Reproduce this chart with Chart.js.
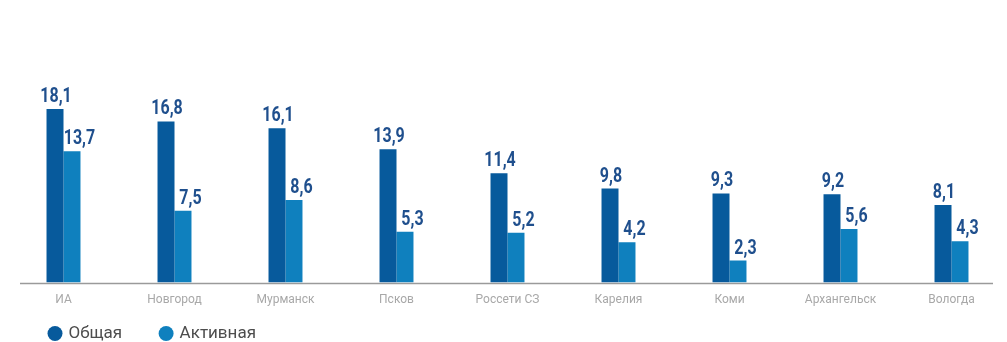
<!DOCTYPE html>
<html>
<head>
<meta charset="utf-8">
<script src="https://cdn.jsdelivr.net/npm/chart.js@4"></script>
<style>
  html, body { margin: 0; padding: 0; background: #ffffff; }
  #wrap { width: 1007px; height: 342px; position: relative; }
</style>
</head>
<body>
<div id="wrap"><canvas id="c"></canvas></div>
<script>
const categories = ["ИА", "Новгород", "Мурманск", "Псков", "Россети СЗ", "Карелия", "Коми", "Архангельск", "Вологда"];
const totalValues = [18.1, 16.8, 16.1, 13.9, 11.4, 9.8, 9.3, 9.2, 8.1];
const activeValues = [13.7, 7.5, 8.6, 5.3, 5.2, 4.2, 2.3, 5.6, 4.3];
const seriesNames = ["Общая", "Активная"];

const FONT = 'Roboto, "Liberation Sans", sans-serif';

const valueLabels = {
  id: 'valueLabels',
  afterDatasetsDraw(chart) {
    const ctx = chart.ctx;
    const sx = 0.8;
    const dx = [1, 7.5];
    ctx.save();
    ctx.font = 'bold 20px ' + FONT;
    ctx.fillStyle = '#1f4f8d';
    ctx.textAlign = 'center';
    ctx.textBaseline = 'alphabetic';
    chart.data.datasets.forEach((ds, di) => {
      const meta = chart.getDatasetMeta(di);
      meta.data.forEach((el, i) => {
        const txt = String(ds.data[i]).replace('.', ',');
        ctx.save();
        ctx.translate(el.x + dx[di], el.y - 7);
        ctx.scale(sx, 1);
        ctx.fillText(txt, 0, 0);
        ctx.restore();
      });
    });
    ctx.restore();
  }
};

const baseLine = {
  id: 'baseLine',
  beforeDatasetsDraw(chart) {
    const ctx = chart.ctx;
    const y = Math.round(chart.scales.y.getPixelForValue(0)) + 0.5;
    ctx.save();
    ctx.strokeStyle = '#9a9a9a';
    ctx.lineWidth = 1.5;
    ctx.beginPath();
    ctx.moveTo(20, y);
    ctx.lineTo(993, y);
    ctx.stroke();
    ctx.restore();
  }
};

const legendPlace = {
  id: 'legendPlace',
  beforeLayout(chart) {
    const lg = chart.legend;
    if (lg && !lg._patched) {
      const f = lg.fit.bind(lg);
      lg.fit = function () { f(); this.height = 25; };
      lg._patched = true;
    }
  },
  afterLayout(chart) {
    const lg = chart.legend;
    if (!lg) return;
    const pad = lg.options.labels.padding;
    lg.left = 50 - pad;
    lg.top = 333 - pad - 8;
  }
};

new Chart(document.getElementById('c'), {
  type: 'bar',
  data: {
    labels: categories,
    datasets: [
      { label: seriesNames[0], data: totalValues, backgroundColor: '#075a9c' },
      { label: seriesNames[1], data: activeValues, backgroundColor: '#0f80be' }
    ]
  },
  options: {
    responsive: true,
    maintainAspectRatio: false,
    animation: false,
    devicePixelRatio: 1,
    categoryPercentage: 0.306,
    barPercentage: 1,
    layout: { padding: { left: 8, right: 0, top: 14, bottom: 0 } },
    scales: {
      x: {
        grid: { display: false, drawTicks: false },
        border: { display: false },
        ticks: { color: '#a8a8a8', font: { family: FONT, size: 12 }, padding: 10, maxRotation: 0, autoSkip: false }
      },
      y: {
        display: false,
        min: 0,
        max: 28
      }
    },
    plugins: {
      tooltip: { enabled: false },
      legend: {
        position: 'bottom',
        align: 'start',
        labels: {
          usePointStyle: true,
          pointStyle: 'circle',
          boxWidth: 10,
          boxHeight: 10.6,
          padding: 39,
          color: '#4d4d4d',
          font: { family: FONT, size: 17 }
        }
      }
    }
  },
  plugins: [valueLabels, baseLine, legendPlace]
});
</script>
</body>
</html>
